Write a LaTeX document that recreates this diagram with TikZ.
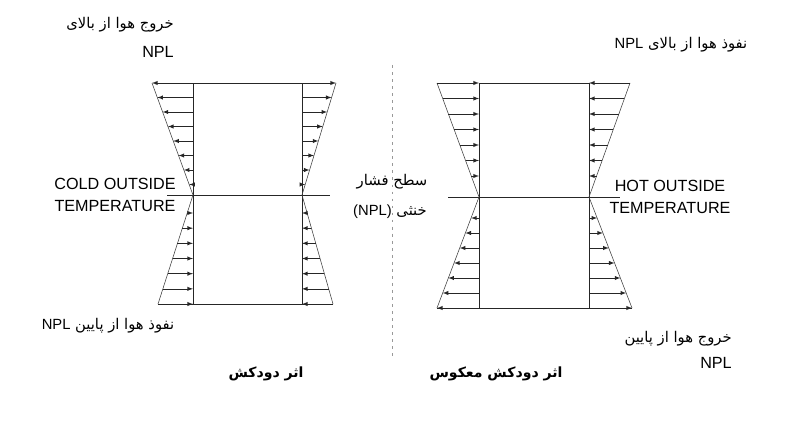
\documentclass[tikz,border=0pt]{standalone}
\usepackage{fontspec}
\setmainfont{Liberation Sans}
\newfontfamily\arabicfont[Script=Arabic]{DejaVu Sans}
\TeXXeTstate=1
\usetikzlibrary{calc}

\begin{document}
\begin{tikzpicture}[x=0.025cm,y=-0.025cm]
\tikzstyle{every node}=[inner sep=0,font=\fontsize{11.5}{16}\selectfont,align=center]
\tikzstyle{wall}=[line width=0.6pt,black!85]
\tikzstyle{slope}=[line width=0.4pt,black!75]
\tikzstyle{flow}=[-latex,line width=0.4pt,black!85]
\tikzstyle{fa}=[font=\arabicfont\fontsize{10.5}{12}\selectfont]
\tikzstyle{title}=[font=\arabicfont\bfseries\fontsize{10}{12}\selectfont]
\useasboundingbox (0,0) rectangle (800,420);

% stack effect (left)
\coordinate (s-lt) at (193,83);
\coordinate (s-ln) at (193,195);
\coordinate (s-lb) at (193,304);
\coordinate (s-rt) at (302,83);
\coordinate (s-rn) at (302,195);
\coordinate (s-rb) at (302,304);
\coordinate (s-tl) at (152,83);
\coordinate (s-bl) at (158,304);
\coordinate (s-tr) at (336,83);
\coordinate (s-br) at (333,304);
\coordinate (s-n1) at (167,195);
\coordinate (s-n2) at (330,195);
\draw [wall] (s-lt) -- (s-lb);
\draw [wall] (s-rt) -- (s-rb);
\draw [wall] (s-lt) -- (s-rt);
\draw [wall] (s-bl) -- (s-br);
\draw [wall] (s-n1) -- (s-n2);
\draw [slope] (s-tl) -- (s-ln) -- (s-bl);
\draw [slope] (s-tr) -- (s-rn) -- (s-br);
\foreach \i in {0,...,7} {
  \pgfmathsetmacro\t{1-\i*14.5/112}
  \draw [flow] ($(s-ln)!\t!(s-lt)$) -- ($(s-ln)!\t!(s-tl)$);
  \draw [flow] ($(s-rn)!\t!(s-rt)$) -- ($(s-rn)!\t!(s-tr)$);
}
\foreach \i in {0,...,6} {
  \pgfmathsetmacro\t{(18+\i*15.17)/109}
  \draw [flow] ($(s-ln)!\t!(s-bl)$) -- ($(s-ln)!\t!(s-lb)$);
  \draw [flow] ($(s-rn)!\t!(s-br)$) -- ($(s-rn)!\t!(s-rb)$);
}

% reverse stack effect (right)
\coordinate (r-lt) at (479,83);
\coordinate (r-ln) at (479,197);
\coordinate (r-lb) at (479,308);
\coordinate (r-rt) at (589,83);
\coordinate (r-rn) at (589,197);
\coordinate (r-rb) at (589,308);
\coordinate (r-tl) at (437,83);
\coordinate (r-bl) at (437,308);
\coordinate (r-tr) at (630,83);
\coordinate (r-br) at (632,308);
\coordinate (r-n1) at (448,197);
\coordinate (r-n2) at (620,197);
\draw [wall] (r-lt) -- (r-lb);
\draw [wall] (r-rt) -- (r-rb);
\draw [wall] (r-lt) -- (r-rt);
\draw [wall] (r-bl) -- (r-br);
\draw [wall] (r-n1) -- (r-n2);
\draw [slope] (r-tl) -- (r-ln) -- (r-bl);
\draw [slope] (r-tr) -- (r-rn) -- (r-br);
\foreach \i in {0,...,6} {
  \pgfmathsetmacro\t{1-\i*15.5/114}
  \draw [flow] ($(r-ln)!\t!(r-tl)$) -- ($(r-ln)!\t!(r-lt)$);
  \draw [flow] ($(r-rn)!\t!(r-tr)$) -- ($(r-rn)!\t!(r-rt)$);
}
\foreach \i in {0,...,6} {
  \pgfmathsetmacro\t{(21+\i*15)/111}
  \draw [flow] ($(r-ln)!\t!(r-lb)$) -- ($(r-ln)!\t!(r-bl)$);
  \draw [flow] ($(r-rn)!\t!(r-rb)$) -- ($(r-rn)!\t!(r-br)$);
}

% middle line
\coordinate (m1) at (392,65);
\coordinate (m2) at (392,360);
\draw [black!40,line width=0.3pt,dash pattern=on 2pt off 3pt] (m1) -- (m2);

% labels
\node [fa,anchor=east] (up-out) at (174,25) {\beginR خروج هوا از بالای\endR};
\node [anchor=east] (up-out-npl) at (174,52) {NPL};
\node [fa] (up-in) at (681,45) {\beginR نفوذ هوا از بالای \beginL{\normalfont NPL}\endL\endR};
\node (cold) at (115,195) {COLD OUTSIDE\\TEMPERATURE};
\node [fa] (npl-a) at (392,182) {\beginR سطح فشار\endR};
\node [fa] (npl-b) at (390,212) {\beginR خنثی \beginL{\normalfont (NPL)}\endL\endR};
\node (hot) at (670,197) {HOT OUTSIDE\\TEMPERATURE};
\node [fa] (low-in) at (108,326) {\beginR نفوذ هوا از پایین \beginL{\normalfont NPL}\endL\endR};
\node [fa,anchor=east] (low-out) at (732,339) {\beginR خروج هوا از پایین\endR};
\node [anchor=east] (low-out-npl) at (732,363) {NPL};
\node [title] (stack) at (266,374) {\beginR اثر دودکش\endR};
\node [title] (reverse) at (496,374) {\beginR اثر دودکش معکوس\endR};
\end{tikzpicture}
\end{document}
